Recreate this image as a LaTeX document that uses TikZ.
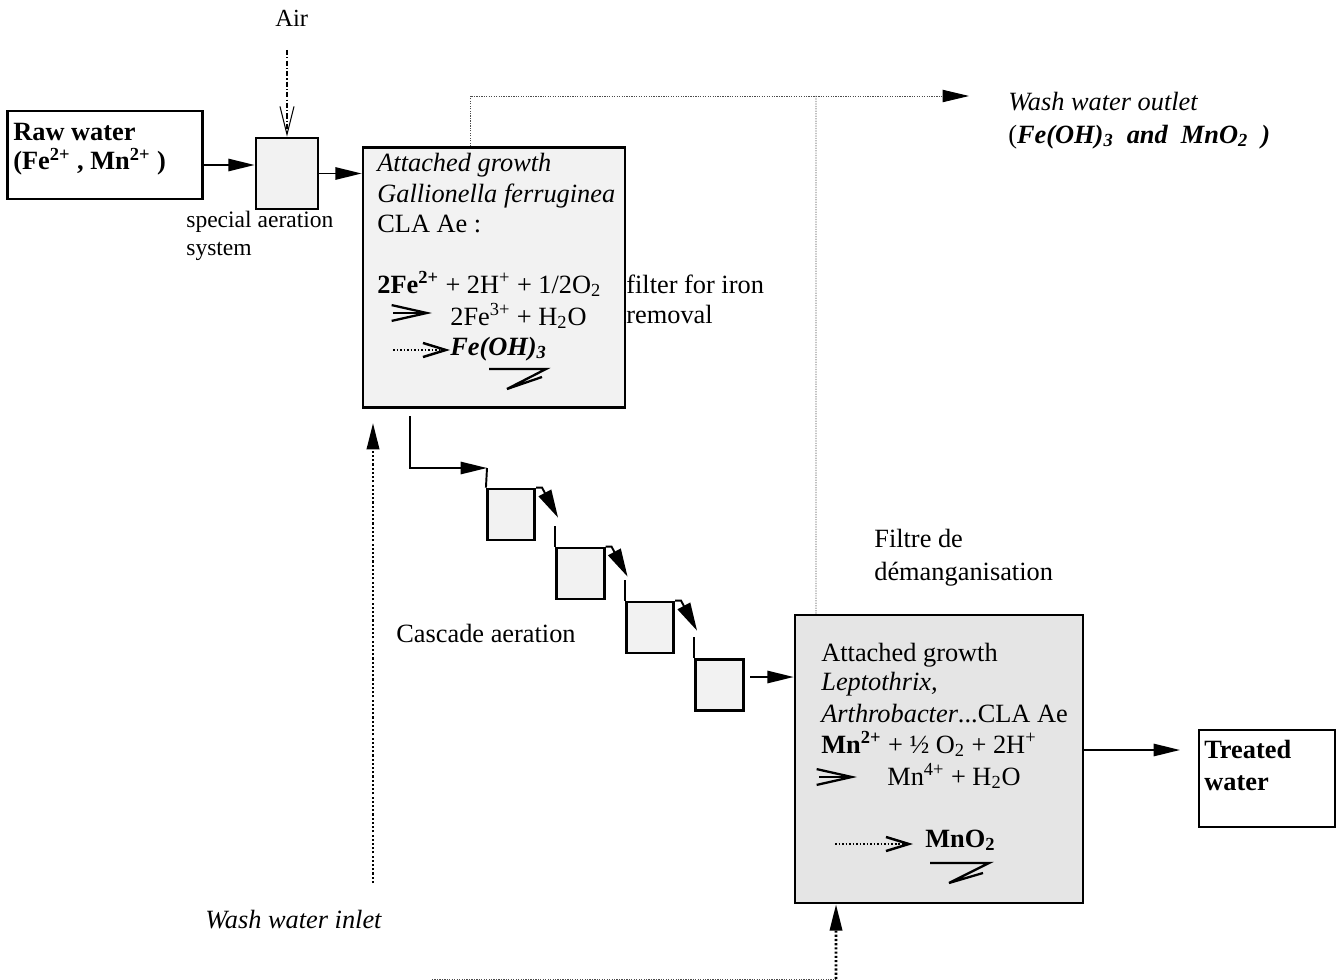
\documentclass[tikz,border=0pt]{standalone}
\usepackage{fontspec}
\setmainfont{Liberation Serif}
\usetikzlibrary{arrows.meta}

\tikzset{
  tank/.style={draw, line width=1.5pt, fill=gray!10, inner sep=0pt},
  flow/.style={line width=1.1pt, -{Triangle[length=15pt,width=7pt]}},
  drop/.style={line width=1.1pt, -{Triangle[length=16pt,width=8pt]}},
  washline/.style={line width=0.5pt, black!70, dash pattern=on 0.7pt off 0.7pt},
  inlet/.style={line width=1.5pt, dash pattern=on 1.2pt off 1.2pt},
  rxn/.style={line width=1.3pt, -{Straight Barb[length=20pt,width=9pt]}},
  rxndot/.style={line width=1.4pt, dash pattern=on 1pt off 1pt, -{Straight Barb[length=13pt,width=8pt]}},
  txt/.style={anchor=base west, inner sep=0pt, font=\fontsize{15}{18}\selectfont},
  smalltxt/.style={anchor=base west, inner sep=0pt, font=\fontsize{13.4}{16}\selectfont},
}

\begin{document}
\begin{tikzpicture}[x=0.02cm, y=-0.02cm]
\useasboundingbox (0,0) rectangle (1342,980);

% Boxes
\node[tank, fill=white, minimum width=3.9cm, minimum height=1.76cm] (raw) at (105,155) {};
\node[tank, minimum width=1.24cm, minimum height=1.42cm] (aer) at (287,173.5) {};
\node[tank, minimum width=5.24cm, minimum height=5.2cm] (f1) at (494,277.5) {};
\foreach \n/\cx/\cy in {c1/511/514.5, c2/580.5/573.5, c3/650/627.5, c4/719.5/685}
  \node[tank, minimum width=0.95cm, minimum height=1.02cm] (\n) at (\cx,\cy) {};
\node[tank, fill=gray!20, minimum width=5.76cm, minimum height=5.76cm] (f2) at (939,759) {};
\node[tank, fill=white, minimum width=2.72cm, minimum height=1.94cm] (treated) at (1267,778.5) {};

% Free ends
\coordinate (airtop) at (287,50);
\coordinate (f1out) at (410,416);
\coordinate (c1in) at (487,468);
\coordinate (c4out) at (750,677);
\coordinate (trtip) at (1180,750);
\coordinate (outtip) at (969,96);
\coordinate (outjoin) at (816,96);
\coordinate (in1) at (373,883);
\coordinate (in1tip) at (373,423);
\coordinate (in2) at (432,979);
\coordinate (in2turn) at (836,979);

% Air
\node[txt, font=\fontsize{14}{17}\selectfont] (airlbl) at (275,27) {Air};
\draw[line width=0.6pt, dash pattern=on 3pt off 1.2pt on 0.6pt off 1.2pt,
      -{Straight Barb[length=16pt,width=8pt]}] (airtop) -- (aer.north);

% Water line
\draw[flow] ([yshift=-0.2cm]raw.east) -- ([yshift=-0.2cm]raw.east -| aer.west);
\draw[flow] (aer.east) -- (aer.east -| f1.west);
\draw[flow] (f1out) |- (c1in);
\draw[line width=1.1pt] (c1in) -- (c1.north west);
\foreach \a/\b in {c1/c2, c2/c3, c3/c4} {
  \draw[drop] (\a.north east) -- ++(6,0) -- ++(16,30);
  \draw[line width=1.1pt] (\b.north west) -- ++(0,-21);
}
\draw[flow] (c4out) -- (c4out -| f2.west);
\draw[flow] (f2.east |- trtip) -- (trtip);

% Wash water
\draw[washline, -{Triangle[length=15pt,width=7pt,black]}] ([xshift=-0.48cm]f1.north) |- (outtip);
\draw[washline] ([xshift=-2.46cm]f2.north) -- (outjoin);
\draw[inlet, -{Triangle[length=15pt,width=7pt]}] (in1) -- (in1tip);
\draw[washline] (in2) -- (in2turn);
\draw[inlet, -{Triangle[length=15pt,width=7pt]}] (in2turn) -- ([xshift=-2.06cm]f2.south);

% Raw water
\node[txt] (rawa) at (13,140) {\bfseries Raw water};
\node[txt] (rawb) at (13,170) {\bfseries (Fe\textsuperscript{2+} , Mn\textsuperscript{2+} )};
\node[smalltxt] (aera) at (186,227) {special aeration};
\node[smalltxt] (aerb) at (186,255) {system};

% Iron filter
\node[txt] (f1a) at (377,172) {\itshape Attached growth};
\node[txt] (f1b) at (377,202) {\itshape Gallionella ferruginea};
\node[txt] (f1c) at (377,232) {CLA Ae :};
\node[txt] (f1d) at (377,293) {\textbf{2Fe\textsuperscript{2+}} + 2H\textsuperscript{+} + 1/2O\textsubscript{2}};
\draw[rxn] (393,313) -- (432,313);
\node[txt] (f1e) at (450,325) {2Fe\textsuperscript{3+} + H\textsubscript{2}O};
\draw[rxndot] (393,350) -- (450,350);
\node[txt] (f1f) at (450,355) {\bfseries\itshape Fe(OH)\textsubscript{3}};
\draw[line width=1.3pt] (489,369) -- (546,369) -- (507,389) -- (542,377);
\node[txt] (f1g) at (626,293) {filter for iron};
\node[txt] (f1h) at (626,323) {removal};

% Cascade
\node[txt] (casc) at (396,642) {Cascade aeration};
\node[txt] (f2lbla) at (874,547) {Filtre de};
\node[txt] (f2lblb) at (874,580) {démanganisation};

% Manganese filter
\node[txt] (f2a) at (821,661) {Attached growth};
\node[txt] (f2b) at (821,690) {\itshape Leptothrix,};
\node[txt] (f2c) at (821,722) {\textit{Arthrobacter}...CLA Ae};
\node[txt] (f2d) at (821,753) {\textbf{Mn\textsuperscript{2+}} + ½ O\textsubscript{2} + 2H\textsuperscript{+}};
\draw[rxn] (819,777) -- (857,777);
\node[txt] (f2e) at (887,785) {Mn\textsuperscript{4+} + H\textsubscript{2}O};
\draw[rxndot] (835,844) -- (913,844);
\node[txt] (f2f) at (925,847) {\bfseries MnO\textsubscript{2}};
\draw[line width=1.3pt] (930,863) -- (989,863) -- (949,883) -- (983,873);

% Treated water
\node[txt] (tra) at (1204,758) {\bfseries Treated};
\node[txt] (trb) at (1204,790) {\bfseries water};

% Wash labels
\node[txt] (outa) at (1008,111) {\itshape Wash water outlet};
\node[txt] (outb) at (1008,143) {(\textbf{\textit{Fe(OH)\textsubscript{3}~ and~ MnO\textsubscript{2}~ )}}};
\node[txt] (inl) at (205,928) {\itshape Wash water inlet};

\end{tikzpicture}
\end{document}
